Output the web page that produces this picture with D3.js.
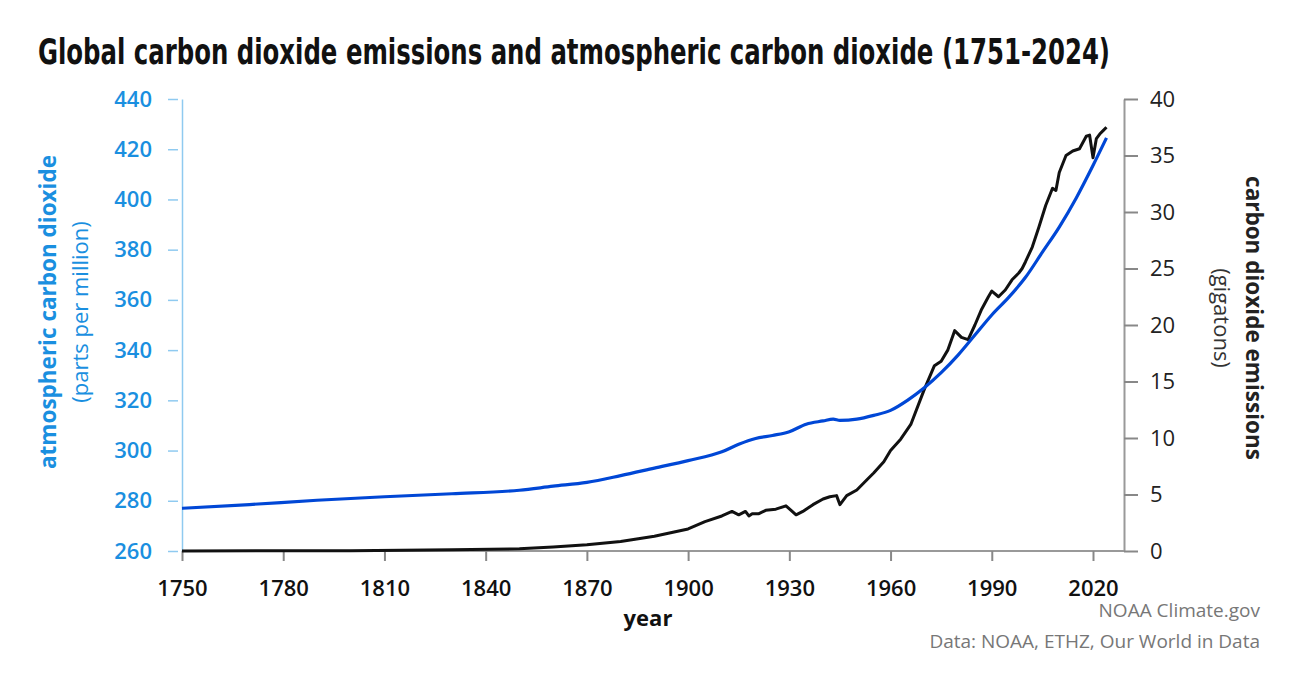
<!DOCTYPE html>
<html><head><meta charset="utf-8">
<script src="https://cdn.jsdelivr.net/npm/d3@7"></script>
<style>body{margin:0;background:#fff}svg{display:block}text{font-family:"Open Sans",sans-serif}</style>
</head><body><svg id="c" width="1310" height="686"></svg>
<script>
const co2Years = [1750,1770,1790,1810,1830,1850,1860,1870,1880,1890,1900,1910,1915,1920,1925,1930,1935,1940,1943,1945,1950,1955,1960,1965,1970,1975,1980,1985,1990,1995,2000,2005,2010,2015,2020,2024];
const co2Ppm   = [277,278.5,280.2,281.6,282.8,284.2,285.8,287.3,290,293,296,299.5,302.5,304.8,306,307.5,310.5,311.8,312.5,312,312.5,314,316,320,325,331,338,346,354,361,369,379,389,400.5,413.5,424.5];
const emYears = [1750,1800,1830,1850,1860,1870,1880,1890,1900,1905,1910,1913,1915,1917,1918,1919,1921,1923,1926,1929,1932,1934,1937,1940,1942,1944,1945,1947,1950,1953,1955,1958,1960,1963,1966,1970,1973,1975,1977,1979,1981,1983,1985,1987,1989,1990,1992,1994,1996,1998,1999,2000,2002,2004,2006,2008,2009,2010,2012,2014,2016,2018,2019,2020,2021,2022,2023,2024];
const emGt   = [0.01,0.03,0.1,0.2,0.35,0.55,0.85,1.3,1.95,2.6,3.1,3.5,3.2,3.5,3.1,3.3,3.3,3.6,3.7,4.0,3.2,3.5,4.1,4.6,4.8,4.9,4.1,4.9,5.4,6.3,6.9,7.9,8.9,9.9,11.2,14.3,16.4,16.8,17.8,19.5,18.9,18.7,20.0,21.4,22.5,23.0,22.5,23.1,24.0,24.6,25.0,25.6,26.9,28.7,30.6,32.1,31.9,33.5,35.0,35.4,35.6,36.7,36.8,34.8,36.5,36.9,37.2,37.5];
const leftTicks = [260,280,300,320,340,360,380,400,420,440];
const rightTicks = [0,5,10,15,20,25,30,35,40];
const xTicks = [1750,1780,1810,1840,1870,1900,1930,1960,1990,2020];

const svg = d3.select("#c");
const x = d3.scaleLinear().domain([1750,2020]).range([182,1093]);
const yL = d3.scaleLinear().domain([260,440]).range([551,99]);
const yR = d3.scaleLinear().domain([0,40]).range([551,99]);

svg.append("text").attr("x",38).attr("y",64).attr("textLength",1072).attr("lengthAdjust","spacingAndGlyphs")
  .style("font-family","'DejaVu Sans Condensed','DejaVu Sans',sans-serif").style("font-size","36px").style("font-weight","700").attr("fill","#111")
  .text("Global carbon dioxide emissions and atmospheric carbon dioxide (1751-2024)");

const gx = svg.append("g").attr("transform","translate(0,551)").call(d3.axisBottom(x).tickValues(xTicks).tickFormat(d3.format("d")).tickSize(10).tickSizeOuter(0));
gx.select(".domain").attr("d","M182,0H1124").attr("stroke","#999").attr("stroke-width",2);
gx.selectAll(".tick line").attr("stroke","#888").attr("stroke-width",2);
gx.selectAll(".tick text").attr("dy","1.45em").style("font-size","22px").style("font-weight","600").attr("fill","#111");

const gl = svg.append("g").attr("transform","translate(182,0)").call(d3.axisLeft(yL).tickValues(leftTicks).tickSize(14).tickSizeOuter(0));
gl.select(".domain").attr("stroke","#8fcaf0").attr("stroke-width",1.5);
gl.selectAll(".tick line").attr("stroke","#8fcaf0").attr("stroke-width",1.5).attr("x1",-4);
gl.selectAll(".tick text").attr("x",-30).style("font-size","22px").style("font-weight","600").attr("fill","#1a8fe0");

const gr = svg.append("g").attr("transform","translate(1124,0)").call(d3.axisRight(yR).tickValues(rightTicks).tickSize(14).tickSizeOuter(0));
gr.select(".domain").attr("stroke","#999").attr("stroke-width",2);
gr.selectAll(".tick line").attr("stroke","#888").attr("stroke-width",2);
gr.selectAll(".tick text").attr("x",26).style("font-size","22px").attr("fill","#222");

const emData = emYears.map((d,i)=>[d,emGt[i]]);
const co2Data = co2Years.map((d,i)=>[d,co2Ppm[i]]);
svg.append("path").datum(emData).attr("fill","none").attr("stroke","#111").attr("stroke-width",3).attr("stroke-linejoin","round")
  .attr("d",d3.line().x(d=>x(d[0])).y(d=>yR(d[1])));
svg.append("path").datum(co2Data).attr("fill","none").attr("stroke","#0047d6").attr("stroke-width",3.2)
  .attr("d",d3.line().curve(d3.curveMonotoneX).x(d=>x(d[0])).y(d=>yL(d[1])));

svg.append("text").attr("transform","translate(56,312) rotate(-90)").attr("text-anchor","middle")
  .style("font-size","22.5px").style("font-weight","700").attr("fill","#1a8fe0").text("atmospheric carbon dioxide");
svg.append("text").attr("transform","translate(88,312) rotate(-90)").attr("text-anchor","middle")
  .style("font-size","22px").attr("fill","#1a8fe0").text("(parts per million)");
svg.append("text").attr("transform","translate(1246,318) rotate(90)").attr("text-anchor","middle")
  .style("font-size","22.5px").style("font-weight","700").attr("fill","#222").text("carbon dioxide emissions");
svg.append("text").attr("transform","translate(1214,318) rotate(90)").attr("text-anchor","middle")
  .style("font-size","22px").attr("fill","#333").text("(gigatons)");
svg.append("text").attr("x",648).attr("y",626).attr("text-anchor","middle").style("font-size","22px").style("font-weight","700").attr("fill","#111").text("year");
svg.append("text").attr("x",1260).attr("y",617).attr("text-anchor","end").style("font-size","19px").attr("fill","#777").text("NOAA Climate.gov");
svg.append("text").attr("x",1260).attr("y",648).attr("text-anchor","end").style("font-size","19px").attr("fill","#777").text("Data: NOAA, ETHZ, Our World in Data");
</script></body></html>
